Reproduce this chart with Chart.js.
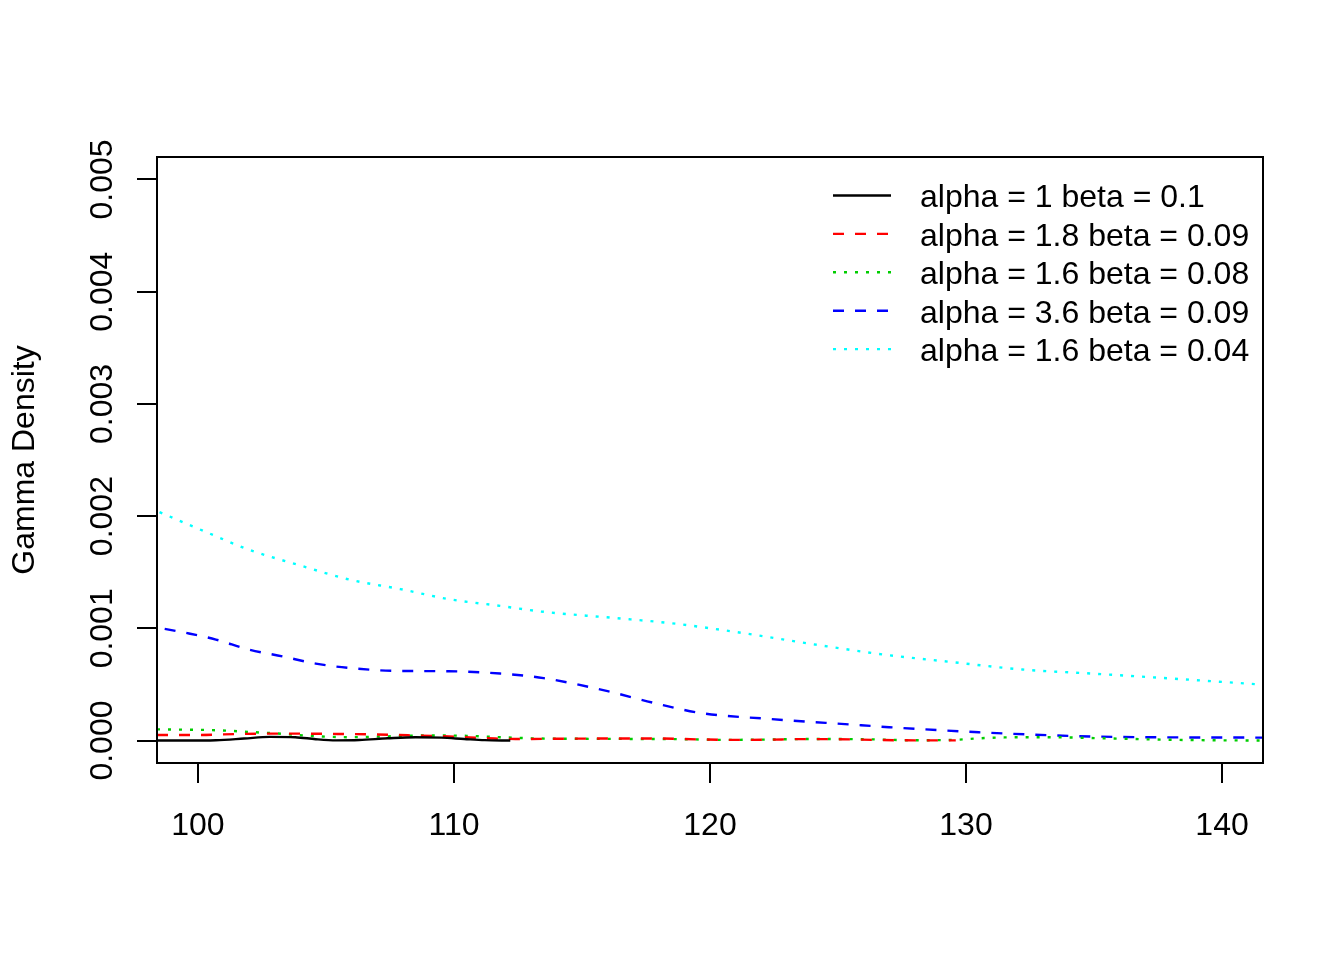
<!DOCTYPE html>
<html lang="en">
<head>
    <meta charset="UTF-8">
    <title>Gamma Density</title>
    <style>
        html, body {
            margin: 0;
            padding: 0;
            background: #ffffff;
        }
        #wrap {
            width: 1344px;
            height: 960px;
        }
    </style>
    <script src="https://cdn.jsdelivr.net/npm/chart.js@4.4.1/dist/chart.umd.min.js"></script>
</head>
<body>
    <div id="wrap"><canvas id="gammaChart" width="1344" height="960"></canvas></div>

    <script>
        // Values
        const xTicks = [100, 110, 120, 130, 140];
        const yTicks = [0, 0.001, 0.002, 0.003, 0.004, 0.005];

        const blackX = [98.4, 99.5, 100.7, 101.8, 102.8, 103.8, 104.6, 105.4, 106.3, 107.4, 108.5, 109.5, 110.4, 111.2, 112.2];
        const blackY = [0.000000, 0.000000, 0.000003, 0.000018, 0.000033, 0.000030, 0.000012, 0.000002, 0.000005, 0.000020, 0.000030, 0.000026, 0.000014, 0.000004, 0.000000];

        const redX = [98.4, 100, 101.7, 103.3, 104.9, 106.6, 108.2, 109.8, 111.6, 112.4, 114, 116, 118, 119.6, 121, 122.2, 123.5, 125, 126.6, 128, 129.6];
        const redY = [0.000050, 0.000050, 0.000059, 0.000062, 0.000060, 0.000056, 0.000047, 0.000036, 0.000018, 0.000014, 0.000016, 0.000018, 0.000018, 0.000010, 0.000006, 0.000007, 0.000013, 0.000012, 0.000005, 0.000002, 0.000002];

        const greenX = [98.4, 100.7, 102, 103.3, 104.6, 105.9, 107.2, 108.9, 110.5, 111.8, 113.4, 116, 119, 120.5, 122, 124, 126, 128, 129.5, 130.5, 131.5, 133.2, 135, 137.7, 139.5, 141.8];
        const greenY = [0.000100, 0.000092, 0.000077, 0.000060, 0.000039, 0.000030, 0.000036, 0.000045, 0.000042, 0.000030, 0.000018, 0.000015, 0.000012, 0.000006, 0.000008, 0.000014, 0.000012, 0.000003, 0.000006, 0.000020, 0.000028, 0.000030, 0.000022, 0.000008, 0.000003, 0.000000];

        const blueX = [98.7, 99.65, 100.7, 102, 103.3, 104.6, 105.9, 107.9, 109.8, 111.8, 113.5, 116, 117.8, 119.6, 122.3, 125.9, 127, 130.5, 134.4, 137, 141.8];
        const blueY = [0.000995, 0.000954, 0.000900, 0.000810, 0.000750, 0.000686, 0.000647, 0.000620, 0.000618, 0.000597, 0.000556, 0.000440, 0.000336, 0.000247, 0.000193, 0.000137, 0.000119, 0.000074, 0.000039, 0.000030, 0.000026];

        const cyanX = [98.5, 100.4, 102, 104, 105.9, 107.9, 109.8, 111.8, 113.4, 116.9, 118.7, 121.4, 124.1, 126.8, 129.5, 132.2, 134.9, 137.6, 141.8];
        const cyanY = [0.002035, 0.00185, 0.00170, 0.00156, 0.001435, 0.00135, 0.00126, 0.00120, 0.00115, 0.00108, 0.00104, 0.000954, 0.000856, 0.000766, 0.000698, 0.000633, 0.000597, 0.000559, 0.000495];

        const seriesLabels = [
            'alpha = 1 beta = 0.1',
            'alpha = 1.8 beta = 0.09',
            'alpha = 1.6 beta = 0.08',
            'alpha = 3.6 beta = 0.09',
            'alpha = 1.6 beta = 0.04'
        ];

        const FONT = "'Liberation Sans', Arial, sans-serif";

        function pairs(xs, ys) {
            return xs.map((x, i) => ({ x: x, y: ys[i] }));
        }

        function makeSet(label, xs, ys, color, dash) {
            return {
                label: label,
                data: pairs(xs, ys),
                borderColor: color,
                borderWidth: 2.4,
                borderDash: dash,
                pointRadius: 0,
                fill: false,
                cubicInterpolationMode: 'monotone'
            };
        }

        // box, rotated y labels, y title and the legend, like base R graphics
        const rStylePlugin = {
            id: 'rStyle',
            afterDraw(chart) {
                const ctx = chart.ctx;
                const area = chart.chartArea;
                const yScale = chart.scales.y;

                ctx.save();
                ctx.strokeStyle = '#000';
                ctx.lineWidth = 2;
                ctx.setLineDash([]);
                ctx.strokeRect(area.left, area.top, area.right - area.left, area.bottom - area.top);

                ctx.fillStyle = '#000';
                ctx.font = '32px ' + FONT;
                ctx.textAlign = 'center';
                ctx.textBaseline = 'alphabetic';
                yTicks.forEach(v => {
                    const py = yScale.getPixelForValue(v);
                    ctx.save();
                    ctx.translate(112, py);
                    ctx.rotate(-Math.PI / 2);
                    ctx.fillText(v.toFixed(3), 0, 0);
                    ctx.restore();
                });

                ctx.save();
                ctx.translate(34, (area.top + area.bottom) / 2);
                ctx.rotate(-Math.PI / 2);
                ctx.fillText('Gamma Density', 0, 0);
                ctx.restore();

                // legend
                ctx.textAlign = 'left';
                ctx.textBaseline = 'middle';
                chart.data.datasets.forEach((ds, i) => {
                    const ly = 195.5 + i * 38.4;
                    ctx.beginPath();
                    ctx.strokeStyle = ds.borderColor;
                    ctx.lineWidth = 2.4;
                    ctx.setLineDash(ds.borderDash);
                    ctx.moveTo(833, ly);
                    ctx.lineTo(891, ly);
                    ctx.stroke();
                    ctx.fillText(ds.label, 920, ly + 3);
                });
                ctx.restore();
            }
        };

        window.onload = function() {
            const ctx = document.getElementById('gammaChart').getContext('2d');
            new Chart(ctx, {
                type: 'line',
                data: {
                    datasets: [
                        makeSet(seriesLabels[0], blackX, blackY, '#000000', []),
                        makeSet(seriesLabels[1], redX, redY, '#ff0000', [11, 11]),
                        makeSet(seriesLabels[2], greenX, greenY, '#00cd00', [3, 8]),
                        makeSet(seriesLabels[3], blueX, blueY, '#0000ff', [11, 11]),
                        makeSet(seriesLabels[4], cyanX, cyanY, '#00ffff', [3, 8])
                    ]
                },
                options: {
                    responsive: false,
                    animation: false,
                    layout: {
                        padding: { left: 0, right: 81, top: 157, bottom: 0 }
                    },
                    plugins: {
                        legend: { display: false },
                        tooltip: { enabled: false }
                    },
                    scales: {
                        x: {
                            type: 'linear',
                            min: 98.4,
                            max: 141.6,
                            afterBuildTicks: s => { s.ticks = xTicks.map(v => ({ value: v })); },
                            afterFit: s => { s.height = 197; },
                            grid: {
                                display: true,
                                drawOnChartArea: false,
                                drawTicks: true,
                                tickLength: 20,
                                color: '#000',
                                lineWidth: 2
                            },
                            border: { display: false },
                            ticks: {
                                color: '#000',
                                font: { size: 32, family: FONT },
                                padding: 24,
                                maxRotation: 0,
                                autoSkip: false
                            }
                        },
                        y: {
                            type: 'linear',
                            min: -0.0002,
                            max: 0.0052,
                            afterBuildTicks: s => { s.ticks = yTicks.map(v => ({ value: v })); },
                            afterFit: s => { s.width = 157; },
                            grid: {
                                display: true,
                                drawOnChartArea: false,
                                drawTicks: true,
                                tickLength: 20,
                                color: '#000',
                                lineWidth: 2
                            },
                            border: { display: false },
                            ticks: { display: false }
                        }
                    }
                },
                plugins: [rStylePlugin]
            });
        };
    </script>
</body>
</html>
